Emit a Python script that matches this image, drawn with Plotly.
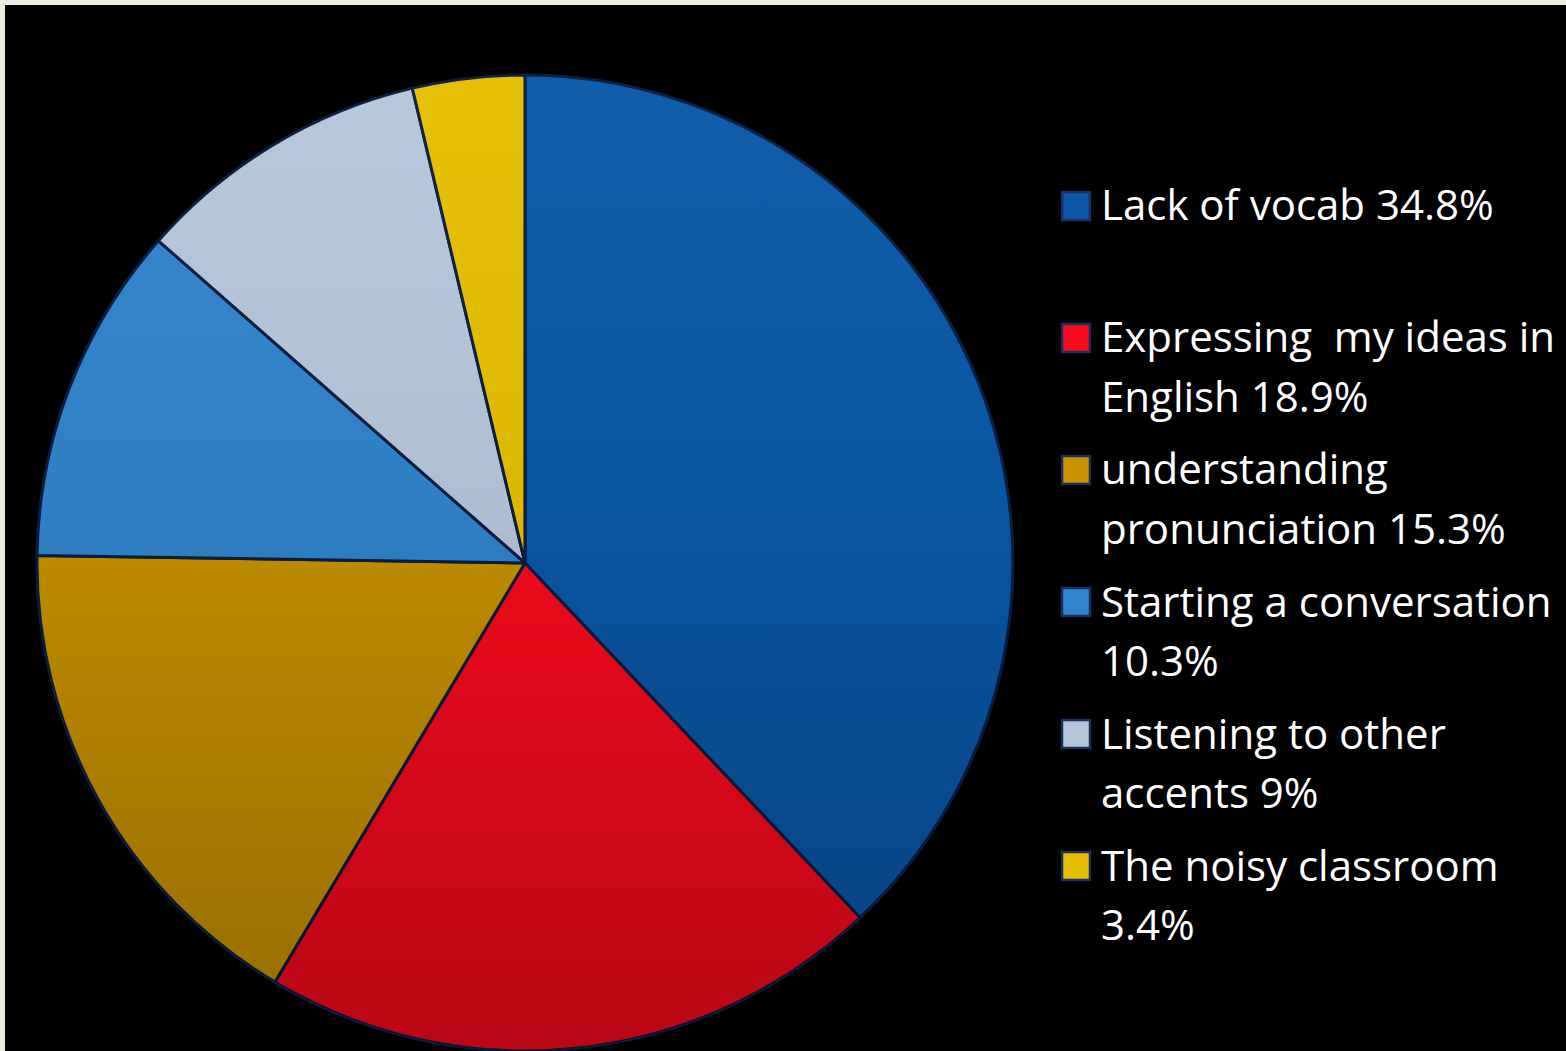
import base64
import plotly.graph_objects as go

# Survey: main difficulties when speaking English (percent of respondents)
categories = [
    "Lack of vocab",
    "Expressing  my ideas in English",
    "understanding pronunciation",
    "Starting a conversation",
    "Listening to other accents",
    "The noisy classroom",
]
values = [34.8, 18.9, 15.3, 10.3, 9, 3.4]
legend_text = [
    ["Lack of vocab 34.8%"],
    ["Expressing \u00a0my ideas in", "English 18.9%"],
    ["understanding", "pronunciation 15.3%"],
    ["Starting a conversation", "10.3%"],
    ["Listening to other", "accents 9%"],
    ["The noisy classroom", "3.4%"],
]
colors = ["#0a58a8", "#fa0a1c", "#c89200", "#3084cc", "#b6c6da", "#e6be00"]
outline = "#0b1d3f"

W, H = 1566, 1051
ML, MT = 5, 5
PW, PH = W - ML, H - MT

# pie occupies the left part of the black panel
dom_x = [0.0, 0.6662]
dom_y = [0.0, 0.9331]

fig = go.Figure(
    go.Pie(
        labels=categories,
        values=values,
        sort=False,
        direction="clockwise",
        rotation=0,
        marker=dict(colors=colors, line=dict(color=outline, width=3)),
        textinfo="none",
        hoverinfo="label+value",
        domain=dict(x=dom_x, y=dom_y),
        showlegend=False,
    )
)

# black panel inside the cream frame
fig.add_shape(type="rect", xref="paper", yref="paper", x0=0, x1=1, y0=0, y1=1,
              fillcolor="black", line=dict(width=0), layer="below")

# vertical shading over the pie disc (lighter top, darker bottom)
dw = (dom_x[1] - dom_x[0]) * PW
dh = (dom_y[1] - dom_y[0]) * PH
r = min(dw, dh) / 2
svg = (
    f'<svg xmlns="http://www.w3.org/2000/svg" width="{dw:.0f}" height="{dh:.0f}" '
    f'viewBox="0 0 {dw:.1f} {dh:.1f}" preserveAspectRatio="none">'
    '<defs><linearGradient id="g" x1="0" y1="0" x2="0" y2="1">'
    '<stop offset="0" stop-color="#ffffff" stop-opacity="0.03"/>'
    '<stop offset="0.45" stop-color="#000000" stop-opacity="0.04"/>'
    '<stop offset="1" stop-color="#000000" stop-opacity="0.26"/>'
    '</linearGradient></defs>'
    f'<circle cx="{dw / 2:.1f}" cy="{dh / 2:.1f}" r="{r:.1f}" fill="url(#g)"/>'
    '</svg>'
)
fig.add_layout_image(
    source="data:image/svg+xml;base64," + base64.b64encode(svg.encode()).decode(),
    xref="paper", yref="paper",
    x=dom_x[0], y=dom_y[1], sizex=dom_x[1] - dom_x[0], sizey=dom_y[1] - dom_y[0],
    xanchor="left", yanchor="top", sizing="stretch", layer="above",
)

# legend drawn as swatches plus text lines
def px_to_paper_y(py):
    return (H - py) / PH

def px_to_paper_x(px):
    return (px - ML) / PW

first_y, entry_gap, line_gap = 206, 132, 59
sw = 28
for i, (lines, col) in enumerate(zip(legend_text, colors)):
    cy = first_y + entry_gap * i
    fig.add_shape(
        type="rect", xref="paper", yref="paper",
        x0=px_to_paper_x(1062), x1=px_to_paper_x(1062 + sw),
        y0=px_to_paper_y(cy + sw / 2), y1=px_to_paper_y(cy - sw / 2),
        fillcolor=col, line=dict(color="#1b2f5c", width=2.5), layer="above",
    )
    for j, line in enumerate(lines):
        fig.add_annotation(
            xref="paper", yref="paper",
            x=px_to_paper_x(1099), y=px_to_paper_y(cy - 2 + line_gap * j),
            text=line, showarrow=False, xanchor="left", yanchor="middle",
            font=dict(family="Open Sans", size=42, color="white"),
        )

fig.update_layout(
    width=W, height=H,
    margin=dict(l=ML, t=MT, r=0, b=0, pad=0),
    paper_bgcolor="#edebe1",
)

fig.write_html("out.html")
